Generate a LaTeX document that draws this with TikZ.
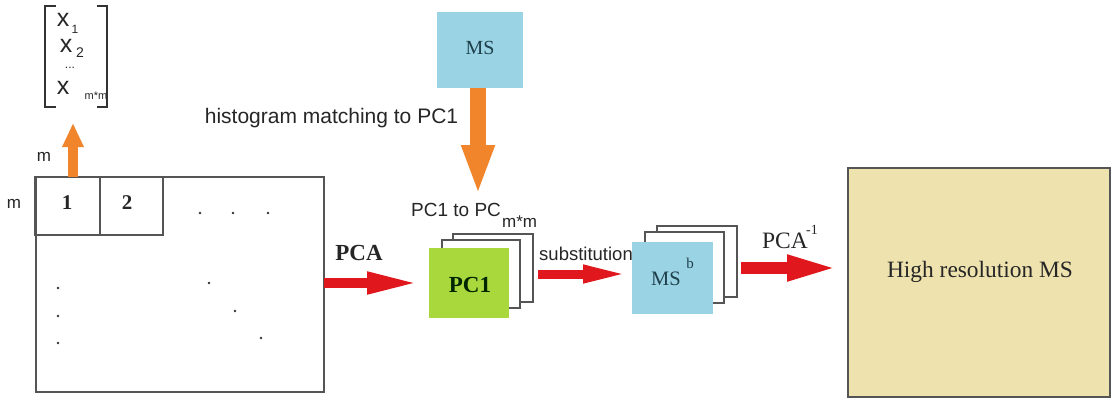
\documentclass[tikz,border=0pt]{standalone}
\usepackage{fontspec}
\setmainfont{Liberation Serif}
\setsansfont{Liberation Sans}
\usetikzlibrary{arrows.meta}
\definecolor{orangeA}{HTML}{F0852C}
\definecolor{redA}{HTML}{E0181E}
\definecolor{greenA}{HTML}{A8D83C}
\definecolor{blueA}{HTML}{9AD4E4}
\definecolor{tanA}{HTML}{EEE2AE}
\definecolor{edgeA}{HTML}{555555}
\definecolor{msText}{HTML}{1E3F4C}
\tikzset{
  box/.style={draw=edgeA, line width=1.3pt, inner sep=0pt, anchor=center},
  frame/.style={draw=edgeA, fill=white, line width=1.2pt, inner sep=0pt, anchor=center},
  sans/.style={font=\sffamily, inner sep=0pt, text=black!85},
  serif/.style={font=\rmfamily, inner sep=0pt, text=black!85},
  dotmark/.style={circle, fill=black!80, inner sep=0pt, minimum size=2.8pt},
  redarrow/.style={draw=redA, line width=#1},
  orangearrow/.style={draw=orangeA, line width=#1},
}
\begin{document}
\begin{tikzpicture}[x=1pt,y=-1pt]
\useasboundingbox (0,0) rectangle (1113,399);

% ---- image matrix with blocks
\node[box, minimum width=288pt, minimum height=215pt] (mat) at (180,284.5) {};
\node[box, minimum width=65pt, minimum height=58pt] (c1) at (67.5,206) {};
\node[box, minimum width=63pt, minimum height=58pt] (c2) at (131.5,206) {};
\node[serif, font=\rmfamily\bfseries\fontsize{21}{24}\selectfont] (t1) at (67,203) {1};
\node[serif, font=\rmfamily\bfseries\fontsize{21}{24}\selectfont] (t2) at (127,203) {2};
\node[sans, font=\sffamily\fontsize{17}{20}\selectfont] (mleft) at (14,204) {m};
\node[sans, font=\sffamily\fontsize{17}{20}\selectfont] (mtop) at (44,157) {m};

% dots
\foreach \i/\x/\y in {a/200/213, b/233/213, c/268/213, d/58/288, e/58/316, f/58/343, g/209/283, h/235/311, k/261/338}
  \node[dotmark] (dot\i) at (\x,\y) {};

% ---- vector bracket
\coordinate (bl1) at (56,6);
\coordinate (bl2) at (45,6);
\coordinate (bl3) at (45,107);
\coordinate (bl4) at (56,107);
\coordinate (br1) at (97,6);
\coordinate (br2) at (107,6);
\coordinate (br3) at (107,107);
\coordinate (br4) at (97,107);
\draw[black!80, line width=1.3pt] (bl1) -- (bl2) -- (bl3) -- (bl4);
\draw[black!80, line width=1.3pt] (br1) -- (br2) -- (br3) -- (br4);
\node[sans, font=\sffamily\fontsize{25}{26}\selectfont] (x1) at (63,20) {x};
\node[sans, font=\sffamily\fontsize{12}{14}\selectfont] (s1) at (75,29) {1};
\node[sans, font=\sffamily\fontsize{25}{26}\selectfont] (x2) at (66,46) {x};
\node[sans, font=\sffamily\fontsize{14}{16}\selectfont] (s2) at (80,53) {2};
\node[sans, font=\sffamily\fontsize{12}{14}\selectfont] (dd) at (70,68) {...};
\node[sans, font=\sffamily\fontsize{25}{26}\selectfont] (x3) at (63,88) {x};
\node[sans, font=\sffamily\fontsize{11}{13}\selectfont] (s3) at (96,96) {m*m};

% orange arrow up
\coordinate (ua) at (73,177);
\coordinate (ub) at (73,123);
\draw[orangearrow=10pt, -{Triangle[length=24pt,width=20pt]}] (ua) -- (ub);

% ---- MS on top
\node[draw=none, fill=blueA, minimum width=86pt, minimum height=76pt, inner sep=0pt] (ms) at (480,50) {};
\node[serif, font=\rmfamily\fontsize{20}{23}\selectfont, text=msText] (mst) at (480,48) {MS};
\coordinate (da) at (478,88);
\coordinate (db) at (478,195);
\draw[orangearrow=16pt, -{Triangle[length=50pt,width=30pt]}] (da) -- (db);
\node[sans, font=\sffamily\fontsize{21}{24}\selectfont] (hist) at (331.5,118) {histogram matching to PC1};

% ---- PC stack
\node[frame, minimum width=80pt, minimum height=68pt] (pcB) at (493,268) {};
\node[frame, minimum width=78pt, minimum height=68pt] (pcA) at (481,274) {};
\node[fill=greenA, minimum width=80pt, minimum height=70pt, inner sep=0pt] (pc1) at (469,283) {};
\node[serif, font=\rmfamily\bfseries\fontsize{23}{26}\selectfont, text=black!85!green] (pc1t) at (470,285) {PC1};
\node[sans, font=\sffamily\fontsize{19}{22}\selectfont, anchor=west] (pcto) at (411,210) {PC1 to PC};
\node[sans, font=\sffamily\fontsize{17}{20}\selectfont, anchor=west] (pcsub) at (502,222) {m*m};

% PCA arrow
\coordinate (ra1) at (324,283);
\coordinate (rb1) at (420,283);
\draw[redarrow=10pt, -{Triangle[length=53pt,width=20pt]}] (ra1) -- (rb1);
\node[serif, font=\rmfamily\bfseries\fontsize{23}{26}\selectfont] (pca) at (359,253) {PCA};

% substitution arrow
\coordinate (ra2) at (538,274);
\coordinate (rb2) at (630,274);
\draw[redarrow=9pt, -{Triangle[length=47pt,width=16pt]}] (ra2) -- (rb2);
\node[sans, font=\sffamily\fontsize{18.5}{21}\selectfont] (subst) at (586,254) {substitution};

% ---- MS^b stack
\node[frame, minimum width=80pt, minimum height=71pt] (msB) at (697,261.5) {};
\node[frame, minimum width=79pt, minimum height=71pt] (msA) at (684.5,267.5) {};
\node[fill=blueA, minimum width=81pt, minimum height=72pt, inner sep=0pt] (msb) at (672.5,278) {};
\node[serif, font=\rmfamily\fontsize{20.5}{23}\selectfont, text=msText] (msbt) at (666,279) {MS};
\node[serif, font=\rmfamily\fontsize{15}{17}\selectfont, text=msText] (msbs) at (690,263) {b};

% PCA^-1 arrow
\coordinate (ra3) at (741,268);
\coordinate (rb3) at (840,268);
\draw[redarrow=12pt, -{Triangle[length=53pt,width=23pt]}] (ra3) -- (rb3);
\node[serif, font=\rmfamily\fontsize{23.5}{26}\selectfont] (pcai) at (785,241) {PCA};
\node[serif, font=\rmfamily\fontsize{14}{16}\selectfont] (pcais) at (812,230) {-1};

% ---- High resolution MS
\node[box, fill=tanA, minimum width=262pt, minimum height=229pt] (hr) at (979,282.5) {};
\node[serif, font=\rmfamily\fontsize{23.4}{26}\selectfont] (hrt) at (980,272) {High resolution MS};
\end{tikzpicture}
\end{document}
